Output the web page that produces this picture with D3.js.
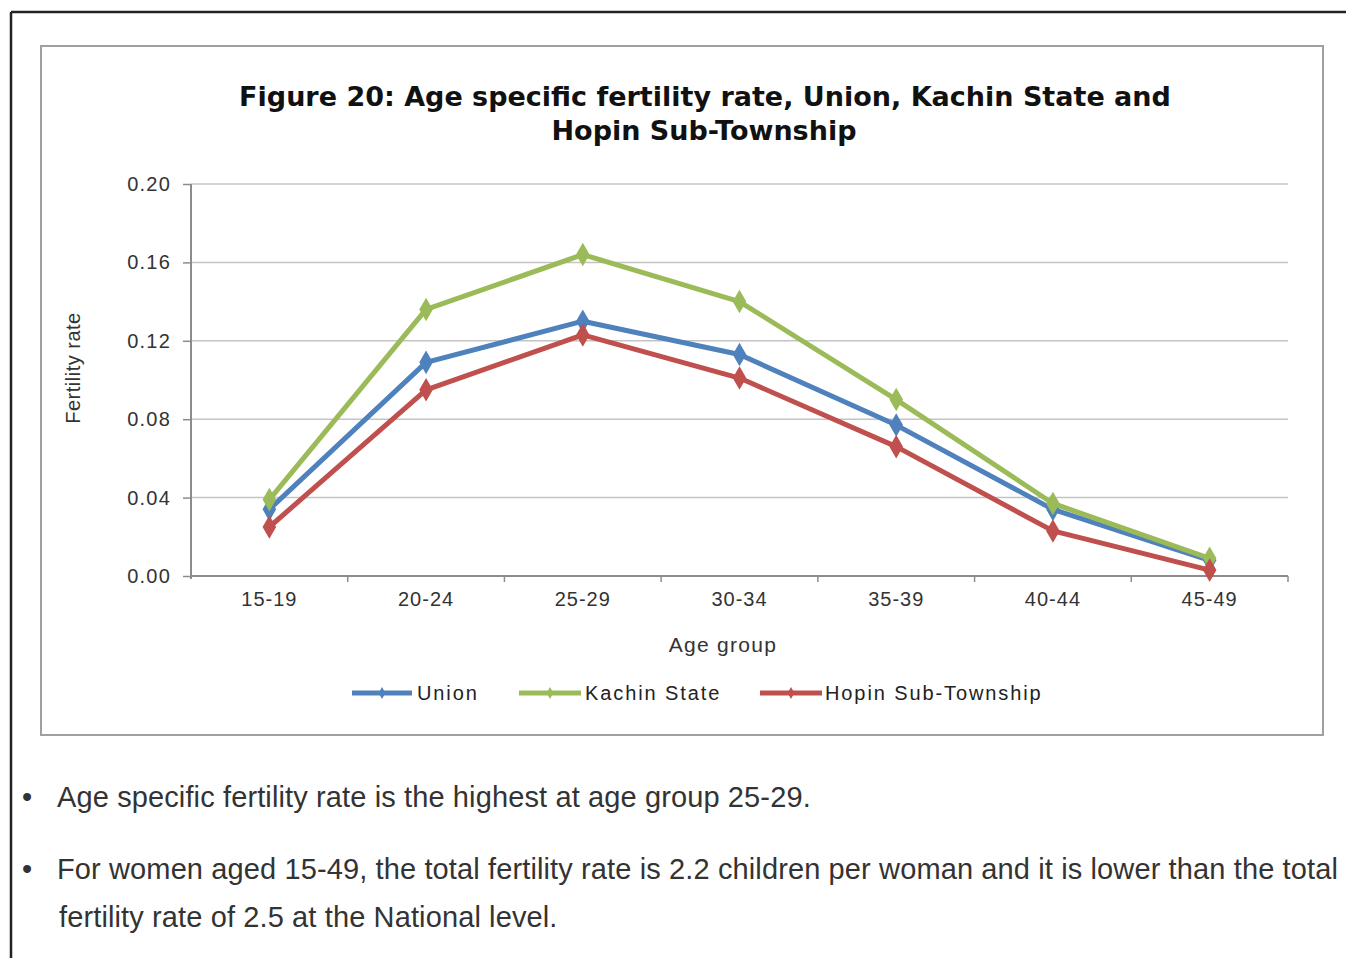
<!DOCTYPE html>
<html>
<head>
<meta charset="utf-8">
<script src="https://cdn.jsdelivr.net/npm/d3@7"></script>
<style>
  html, body { margin: 0; padding: 0; background: #fff; }
  svg { display: block; }
</style>
</head>
<body>
<svg id="chart" width="1346" height="958"></svg>
<script>
// Age groups and age specific fertility rates
const ageGroups = ["15-19", "20-24", "25-29", "30-34", "35-39", "40-44", "45-49"];
const unionRates = [0.034, 0.109, 0.130, 0.113, 0.077, 0.034, 0.008];
const kachinRates = [0.039, 0.136, 0.164, 0.140, 0.090, 0.037, 0.009];
const hopinRates = [0.025, 0.095, 0.123, 0.101, 0.066, 0.023, 0.003];
const yTicks = [0, 0.04, 0.08, 0.12, 0.16, 0.20];
const seriesNames = ["Union", "Kachin State", "Hopin Sub-Township"];
const seriesColors = ["#4F81BD", "#9BBB59", "#C0504D"];

const series = [
  { name: seriesNames[0], color: seriesColors[0], values: unionRates },
  { name: seriesNames[1], color: seriesColors[1], values: kachinRates },
  { name: seriesNames[2], color: seriesColors[2], values: hopinRates }
];

const svg = d3.select("#chart");
const sans = "'Liberation Sans', Arial, sans-serif";

// Page frame
svg.append("line").attr("x1", 11).attr("y1", 12).attr("x2", 1346).attr("y2", 12)
  .attr("stroke", "#222").attr("stroke-width", 2.5);
svg.append("line").attr("x1", 11).attr("y1", 12).attr("x2", 11).attr("y2", 958)
  .attr("stroke", "#222").attr("stroke-width", 2.5);

// Chart box
svg.append("rect").attr("x", 41).attr("y", 46).attr("width", 1282).attr("height", 689)
  .attr("fill", "#fff").attr("stroke", "#a0a0a0").attr("stroke-width", 2);

// Title
const title = svg.append("text")
  .attr("text-anchor", "middle")
  .attr("font-family", "'DejaVu Sans', Verdana, sans-serif")
  .attr("font-weight", "bold")
  .attr("font-size", 27)
  .attr("fill", "#111");
title.append("tspan").attr("x", 705).attr("y", 106)
  .text("Figure 20: Age specific fertility rate, Union, Kachin State and");
title.append("tspan").attr("x", 704).attr("y", 140)
  .text("Hopin Sub-Township");

// Scales
const plot = { left: 191, right: 1288, top: 184, bottom: 576 };
const x = d3.scaleBand().domain(ageGroups).range([plot.left, plot.right]);
const y = d3.scaleLinear().domain([0, 0.20]).range([plot.bottom, plot.top]);

// Gridlines
svg.append("g").selectAll("line").data(yTicks.filter(d => d > 0)).join("line")
  .attr("x1", plot.left).attr("x2", plot.right)
  .attr("y1", d => y(d)).attr("y2", d => y(d))
  .attr("stroke", "#c4c4c4").attr("stroke-width", 1.5);

// Y axis
const yAxis = svg.append("g").attr("transform", `translate(${plot.left},0)`)
  .call(d3.axisLeft(y).tickValues(yTicks).tickFormat(d3.format(".2f")).tickSize(8).tickPadding(12));
yAxis.select(".domain").attr("stroke", "#8c8c8c").attr("stroke-width", 2)
  .attr("d", `M0,${plot.top}V${plot.bottom + 3}`);
yAxis.selectAll(".tick line").attr("stroke", "#8c8c8c").attr("stroke-width", 1.5);
yAxis.selectAll(".tick text")
  .attr("font-family", sans).attr("font-size", 20).attr("letter-spacing", 1.2)
  .attr("fill", "#333");

// X axis
const xAxis = svg.append("g").attr("transform", `translate(0,${plot.bottom})`)
  .call(d3.axisBottom(x).tickSize(0).tickPadding(16));
xAxis.select(".domain").attr("stroke", "#8c8c8c").attr("stroke-width", 2)
  .attr("d", `M${plot.left},0H${plot.right}`);
xAxis.selectAll(".tick text")
  .attr("font-family", sans).attr("font-size", 20).attr("letter-spacing", 1)
  .attr("fill", "#333");
// Category separator ticks
svg.append("g").selectAll("line").data(ageGroups).join("line")
  .attr("x1", d => x(d) + x.bandwidth()).attr("x2", d => x(d) + x.bandwidth())
  .attr("y1", plot.bottom).attr("y2", plot.bottom + 6)
  .attr("stroke", "#8c8c8c").attr("stroke-width", 1.5);

// Axis titles
svg.append("text").attr("x", 723).attr("y", 652).attr("text-anchor", "middle")
  .attr("font-family", sans).attr("font-size", 21).attr("letter-spacing", 1.3)
  .attr("fill", "#333").text("Age group");
svg.append("text").attr("transform", "translate(80,368) rotate(-90)").attr("text-anchor", "middle")
  .attr("font-family", sans).attr("font-size", 20).attr("letter-spacing", 0.5)
  .attr("fill", "#333").text("Fertility rate");

// Lines and diamond markers
const line = d3.line()
  .x((d, i) => x(ageGroups[i]) + x.bandwidth() / 2)
  .y(d => y(d));
const diamond = d3.symbol().type(d3.symbolDiamond).size(160);

series.forEach(s => {
  const g = svg.append("g");
  g.append("path").datum(s.values).attr("d", line)
    .attr("fill", "none").attr("stroke", s.color).attr("stroke-width", 5)
    .attr("stroke-linejoin", "round");
  g.selectAll("path.marker").data(s.values).join("path").attr("class", "marker")
    .attr("d", diamond)
    .attr("transform", (d, i) => `translate(${x(ageGroups[i]) + x.bandwidth() / 2},${y(d)})`)
    .attr("fill", s.color);
});

// Legend
const legendItems = [
  { x1: 352, x2: 412, tx: 417 },
  { x1: 519, x2: 581, tx: 585 },
  { x1: 760, x2: 822, tx: 825 }
];
const legend = svg.append("g");
series.forEach((s, i) => {
  const p = legendItems[i];
  legend.append("line").attr("x1", p.x1).attr("x2", p.x2).attr("y1", 693).attr("y2", 693)
    .attr("stroke", s.color).attr("stroke-width", 5);
  legend.append("path").attr("d", d3.symbol().type(d3.symbolDiamond).size(40))
    .attr("transform", `translate(${(p.x1 + p.x2) / 2},693)`).attr("fill", s.color);
  legend.append("text").attr("x", p.tx).attr("y", 700)
    .attr("font-family", sans).attr("font-size", 20).attr("letter-spacing", 1.9)
    .attr("fill", "#222").text(s.name);
});

// Notes below the chart
const notes = svg.append("g")
  .attr("font-family", sans).attr("font-size", 29).attr("letter-spacing", 0.12)
  .attr("fill", "#333");
notes.append("text").attr("x", 22).attr("y", 807).text("•");
notes.append("text").attr("x", 57).attr("y", 807)
  .text("Age specific fertility rate is the highest at age group 25-29.");
notes.append("text").attr("x", 22).attr("y", 879).text("•");
notes.append("text").attr("x", 57).attr("y", 879)
  .text("For women aged 15-49, the total fertility rate is 2.2 children per woman and it is lower than the total");
notes.append("text").attr("x", 59).attr("y", 927)
  .text("fertility rate of 2.5 at the National level.");
</script>
</body>
</html>
